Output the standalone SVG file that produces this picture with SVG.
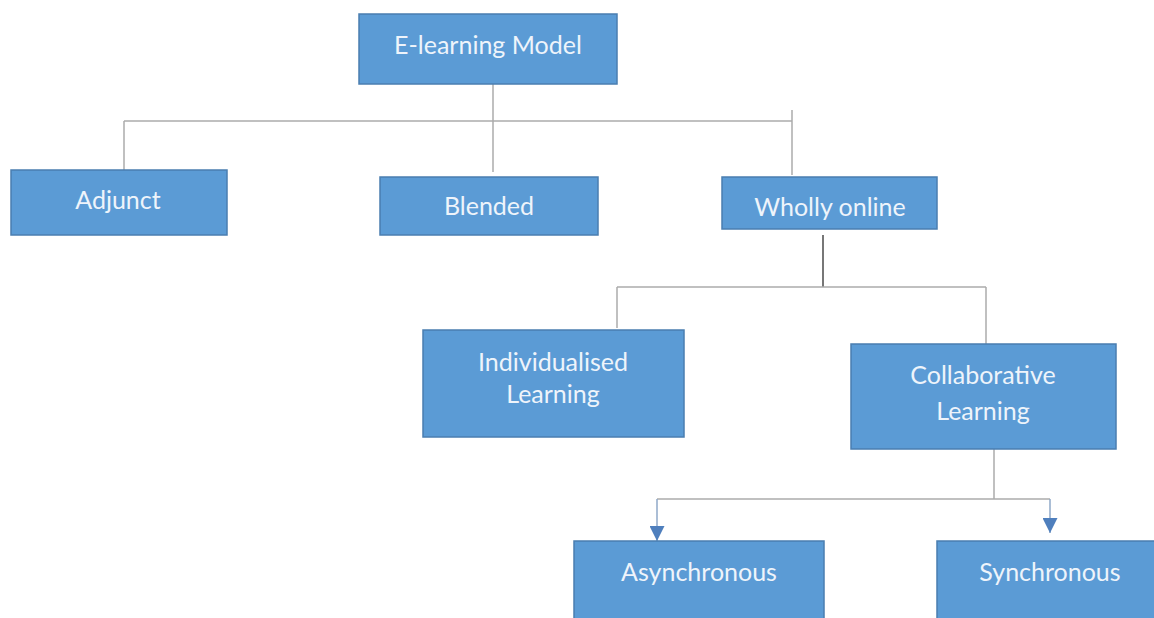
<svg xmlns="http://www.w3.org/2000/svg" width="1154" height="618" viewBox="0 0 1154 618">
  <defs>
    <style>
      .box { fill: #5B9BD5; stroke: #4A7EB0; stroke-width: 1.5; }
      .lbl { fill: #EEF4FB; font-family: Lato, "Open Sans", "Liberation Sans", sans-serif; font-size: 25px; text-anchor: middle; }
      .ln { stroke: #ABABAB; stroke-width: 1.5; fill: none; }
      .dk { stroke: #4A4A4A; stroke-width: 1.5; fill: none; }
      .ar { stroke: #8FA9C9; stroke-width: 1.5; fill: none; }
    </style>
    <marker id="arr" viewBox="0 0 10 10" refX="10" refY="5" markerWidth="15" markerHeight="15" markerUnits="userSpaceOnUse" orient="auto">
      <path d="M0,0 L10,5 L0,10 z" fill="#4F7FBD"/>
    </marker>
  </defs>
  <rect width="1154" height="618" fill="#FFFFFF"/>

  <g id="connectors">
    <line class="ln" x1="493" y1="84" x2="493" y2="121"/>
    <line class="ln" x1="124" y1="121" x2="792" y2="121"/>
    <line class="ln" x1="124" y1="121" x2="124" y2="170"/>
    <line class="ln" x1="493" y1="121" x2="493" y2="172"/>
    <line class="ln" x1="792" y1="110" x2="792" y2="175"/>
    <line class="dk" x1="823" y1="235" x2="823" y2="287"/>
    <line class="ln" x1="617" y1="287" x2="986" y2="287"/>
    <line class="ln" x1="617" y1="287" x2="617" y2="328"/>
    <line class="ln" x1="986" y1="287" x2="986" y2="344"/>
    <line class="ln" x1="994" y1="449" x2="994" y2="499"/>
    <line class="ln" x1="657" y1="499" x2="1050" y2="499"/>
    <line class="ar" x1="657" y1="499" x2="657" y2="541" marker-end="url(#arr)"/>
    <line class="ar" x1="1050" y1="499" x2="1050" y2="533" marker-end="url(#arr)"/>
  </g>

  <g id="n-elearning">
    <rect class="box" x="359" y="14" width="258" height="70"/>
    <text class="lbl" x="488" y="54">E-learning Model</text>
  </g>
  <g id="n-adjunct">
    <rect class="box" x="11" y="170" width="216" height="65"/>
    <text class="lbl" x="118" y="209">Adjunct</text>
  </g>
  <g id="n-blended">
    <rect class="box" x="380" y="177" width="218" height="58"/>
    <text class="lbl" x="489" y="215">Blended</text>
  </g>
  <g id="n-wholly">
    <rect class="box" x="722" y="177" width="215" height="52"/>
    <text class="lbl" x="830" y="216">Wholly online</text>
  </g>
  <g id="n-individualised">
    <rect class="box" x="423" y="330" width="261" height="107"/>
    <text class="lbl" x="553" y="371">Individualised</text>
    <text class="lbl" x="553" y="403">Learning</text>
  </g>
  <g id="n-collaborative">
    <rect class="box" x="851" y="344" width="265" height="105"/>
    <text class="lbl" x="983" y="384">Collaborative</text>
    <text class="lbl" x="983" y="420">Learning</text>
  </g>
  <g id="n-asynchronous">
    <rect class="box" x="574" y="541" width="250" height="90"/>
    <text class="lbl" x="699" y="581">Asynchronous</text>
  </g>
  <g id="n-synchronous">
    <rect class="box" x="937" y="541" width="230" height="90"/>
    <text class="lbl" x="1050" y="581">Synchronous</text>
  </g>
</svg>
